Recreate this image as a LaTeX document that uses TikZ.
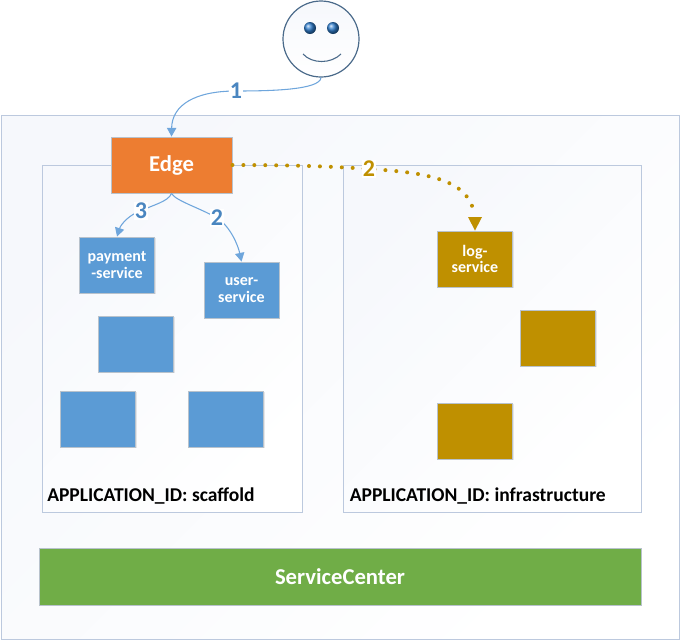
\documentclass[tikz,border=0pt]{standalone}
\usepackage{fontspec}
\setmainfont{Carlito}
\usetikzlibrary{shadows,arrows.meta}
\definecolor{cblue}{HTML}{5B9BD5}
\definecolor{corange}{HTML}{ED7D31}
\definecolor{cgold}{HTML}{BF9000}
\definecolor{cgreen}{HTML}{70AD47}
\definecolor{cline}{HTML}{BCC9DE}
\definecolor{cedge}{HTML}{B8C2CC}
\definecolor{cpale}{HTML}{F6F8FC}
\definecolor{cface}{HTML}{4A6A8A}
\definecolor{clabel}{HTML}{4A86C0}
\definecolor{cconn}{HTML}{6FA6DC}
\definecolor{ceye}{HTML}{2F7FD0}
\tikzset{
  sz/.style 2 args={minimum width=#1*0.75pt,minimum height=#2*0.75pt,inner sep=0pt},
  panel/.style={draw=cline,line width=0.75pt,shading=axis,top color=cpale,bottom color=white,shading angle=45},
  svc/.style={draw=cedge,line width=0.7pt,fill=#1,text=white,font=\bfseries\fontsize{12}{12.2}\selectfont,align=center,
    drop shadow={opacity=0.18,shadow xshift=0.8pt,shadow yshift=-1pt}},
  panellabel/.style={anchor=west,inner sep=0pt,text=black,font=\bfseries\fontsize{14.65}{15}\selectfont},
  num/.style={fill=white,inner sep=0.5pt,font=\bfseries\fontsize{18}{18}\selectfont,text=#1},
  link/.style={draw=cconn,line width=0.8pt,-{Triangle[length=6.5pt,width=7pt,fill=cconn]}},
  dotlink/.style={draw=cgold,line width=3pt,line cap=round,dash pattern=on 0pt off 8.2pt},
}
\begin{document}
\begin{tikzpicture}[x=0.75pt,y=-0.75pt]
\useasboundingbox (0,0) rectangle (681,640);
% containers
\node[panel,sz={678}{524}] (outer) at (340,377) {};
\node[panel,sz={260}{347}] (left) at (172,338.5) {};
\node[panel,sz={298}{347}] (right) at (492,338.5) {};
\node[panellabel] (leftlabel) at (47,496) {APPLICATION\_ID: scaffold};
\node[panellabel] (rightlabel) at (349.5,496) {APPLICATION\_ID: infrastructure};
% person
\node[circle,draw=cface,line width=0.9pt,shading=axis,top color=cpale,bottom color=white,sz={76}{76}] (face) at (321,39) {};
\node[circle,sz={12}{12},ball color=ceye] (eyeL) at (310,28) {};
\node[circle,sz={12}{12},ball color=ceye] (eyeR) at (333,28) {};
\draw[cface,line width=0.8pt] (303,54) .. controls (312,64) and (331,64) .. (341,54);
% services
\node[svc=corange,sz={121}{56},font=\bfseries\fontsize{17}{19}\selectfont] (edge) at (171.5,165) {Edge};
\node[svc=cblue,sz={75}{56}] (payment) at (117,265) {payment\\-service};
\node[svc=cblue,sz={75}{56}] (user) at (241.5,290) {user-\\service};
\node[svc=cblue,sz={75}{56}] (b1) at (136,344) {};
\node[svc=cblue,sz={75}{56}] (b2) at (98,419) {};
\node[svc=cblue,sz={75}{56}] (b3) at (226,419) {};
\node[svc=cgold,sz={75}{56}] (log) at (475,259) {log-\\service};
\node[svc=cgold,sz={75}{56}] (g1) at (558,338) {};
\node[svc=cgold,sz={75}{56}] (g2) at (475,431) {};
\node[svc=cgreen,sz={602}{57},font=\bfseries\fontsize{17}{19}\selectfont] (sc) at (340,576.5) {ServiceCenter};
% connectors
\coordinate (n1) at (236,91);
\coordinate (n3) at (141,211);
\coordinate (n2b) at (217,218);
\coordinate (n2g) at (369,169);
\coordinate (logtip) at (473,209);
\draw[link] (face.south) .. controls (320,90) and (270,91) .. (n1) .. controls (195,91) and (172,105) .. (edge.north);
\draw[link] (edge.south) .. controls (168,202) and (152,205) .. (n3) .. controls (130,214) and (121,224) .. (payment.north);
\draw[link] (edge.south) .. controls (176,201) and (200,208) .. (n2b) .. controls (230,226) and (238,245) .. (user.north);
\draw[dotlink] (edge.east) .. controls (280,165) and (330,166) .. (n2g) .. controls (420,172) and (465,178) .. (logtip);
\fill[cgold] (468,217) -- (482,217) -- (log.north) -- cycle;
\node[num=clabel] (l1) at (n1) {1};
\node[num=clabel] (l3) at (n3) {3};
\node[num=clabel] (l2b) at (n2b) {2};
\node[num=cgold] (l2g) at (n2g) {2};
\end{tikzpicture}
\end{document}
